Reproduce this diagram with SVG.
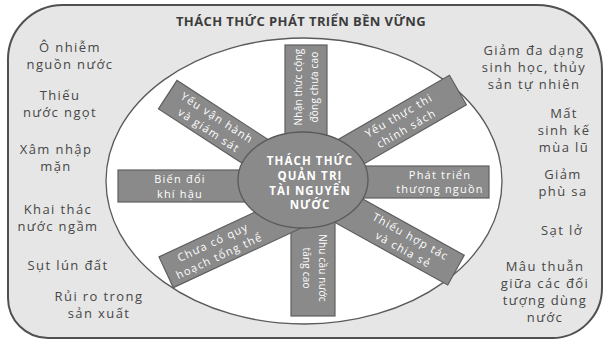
<svg xmlns="http://www.w3.org/2000/svg" width="608" height="343" viewBox="0 0 608 343">
  <style>
    .frame { fill: #e6e6e6; stroke: #505050; stroke-width: 2; }
    .ring { fill: #ffffff; stroke: #5a5a5a; stroke-width: 1.3; }
    .hub { fill: #8a8a8a; stroke: #5a5a5a; stroke-width: 1.3; }
    .box { fill: #8a8a8a; stroke: #5f5f5f; stroke-width: 1.2; }
    .title { font-family: "Open Sans", "Noto Sans", sans-serif; font-weight: bold; font-size: 13px; letter-spacing: 0.4px; fill: #3c3c3c; text-anchor: middle; }
    .issue { font-family: "Open Sans", "Noto Sans", sans-serif; font-size: 13px; letter-spacing: 1.4px; fill: #474747; text-anchor: middle; }
    .hub-text { font-family: "Open Sans", "Noto Sans", sans-serif; font-weight: bold; font-size: 11.5px; letter-spacing: 1.1px; fill: #ffffff; text-anchor: middle; }
    .box-text { font-family: "Open Sans", "Noto Sans", sans-serif; font-size: 11px; letter-spacing: 1.2px; fill: #ffffff; text-anchor: middle; }
    .box-text-v { font-family: "Open Sans", "Noto Sans", sans-serif; font-size: 10px; letter-spacing: 0.2px; fill: #ffffff; text-anchor: middle; }
  </style>

  <!-- outer frame: sustainable development challenges -->
  <g id="frame">
    <path class="frame" d="M8,62 A55,55 0 0 1 63,5 L537,5 A65,65 0 0 1 602,70 L602,288 A50,50 0 0 1 552,338 L48,338 A40,40 0 0 1 8,298 Z"/>
    <text class="title" x="301" y="26">THÁCH THỨC PHÁT TRIỂN BỀN VỮNG</text>
  </g>

  <!-- challenges listed on the left -->
  <g id="left-issues" class="issue">
    <g id="i-pollution"><text x="70" y="52">Ô nhiễm</text><text x="70" y="69">nguồn nước</text></g>
    <g id="i-freshwater"><text x="60" y="100">Thiếu</text><text x="60" y="117">nước ngọt</text></g>
    <g id="i-salinity"><text x="56" y="154">Xâm nhập</text><text x="56" y="171">mặn</text></g>
    <g id="i-groundwater"><text x="58" y="214">Khai thác</text><text x="58" y="231">nước ngầm</text></g>
    <g id="i-subsidence"><text x="68" y="270">Sụt lún đất</text></g>
    <g id="i-production"><text x="99" y="301">Rủi ro trong</text><text x="99" y="318">sản xuất</text></g>
  </g>

  <!-- challenges listed on the right -->
  <g id="right-issues" class="issue">
    <g id="i-biodiversity"><text x="534" y="55">Giảm đa dạng</text><text x="534" y="72">sinh học, thủy</text><text x="534" y="89">sản tự nhiên</text></g>
    <g id="i-livelihood"><text x="564" y="118">Mất</text><text x="564" y="135">sinh kế</text><text x="564" y="152">mùa lũ</text></g>
    <g id="i-sediment"><text x="563" y="179">Giảm</text><text x="563" y="196">phù sa</text></g>
    <g id="i-erosion"><text x="562" y="235">Sạt lở</text></g>
    <g id="i-conflict"><text x="545" y="271">Mâu thuẫn</text><text x="545" y="288">giữa các đối</text><text x="545" y="305">tượng dùng</text><text x="545" y="322">nước</text></g>
  </g>

  <!-- inner ring: water governance challenges -->
  <ellipse id="ring" class="ring" cx="304" cy="181" rx="198" ry="143"/>

  <!-- spokes around the hub -->
  <g id="connectors">
    <g id="n-awareness">
      <rect class="box" x="285" y="45" width="42" height="100"/>
      <g transform="translate(306,87) rotate(-90)" class="box-text-v">
        <text x="0" y="-4">Nhận thức cộng</text>
        <text x="0" y="12">đồng chưa cao</text>
      </g>
    </g>
    <g id="n-demand">
      <rect class="box" x="291" y="210" width="44" height="106"/>
      <g transform="translate(314.5,268) rotate(90)" class="box-text-v">
        <text x="0" y="-4">Nhu cầu nước</text>
        <text x="0" y="12">tăng cao</text>
      </g>
    </g>
    <g id="n-upstream">
      <rect class="box" x="355" y="166" width="134" height="32"/>
      <text class="box-text" x="440" y="178.5">Phát triển</text>
      <text class="box-text" x="440" y="193">thượng nguồn</text>
    </g>
    <g id="n-climate">
      <rect class="box" x="118" y="170" width="140" height="32"/>
      <text class="box-text" x="180" y="183">Biến đổi</text>
      <text class="box-text" x="180" y="197.5">khí hậu</text>
    </g>
    <g id="n-operation" transform="translate(213,124) rotate(33)">
      <rect class="box" x="-54" y="-17" width="124" height="34"/>
      <text class="box-text" x="0" y="-3.5">Yếu vận hành</text>
      <text class="box-text" x="0" y="11.5">và giám sát</text>
    </g>
    <g id="n-enforcement" transform="translate(402.5,122) rotate(-30)">
      <rect class="box" x="-70" y="-17" width="134" height="34"/>
      <text class="box-text" x="0" y="-3.5">Yếu thực thi</text>
      <text class="box-text" x="0" y="11.5">chính sách</text>
    </g>
    <g id="n-planning" transform="translate(216,249) rotate(-25)">
      <rect class="box" x="-55" y="-17" width="150" height="34"/>
      <text class="box-text" x="0" y="-3.5">Chưa có quy</text>
      <text class="box-text" x="0" y="11.5">hoạch tổng thể</text>
    </g>
    <g id="n-cooperation" transform="translate(407,243) rotate(29)">
      <rect class="box" x="-100" y="-17" width="156" height="34"/>
      <text class="box-text" x="0" y="-3.5">Thiếu hợp tác</text>
      <text class="box-text" x="0" y="11.5">và chia sẻ</text>
    </g>
  </g>

  <!-- central hub -->
  <g id="hub">
    <ellipse class="hub" cx="303" cy="180" rx="65" ry="48"/>
    <text class="hub-text" x="310" y="164.5">THÁCH THỨC</text>
    <text class="hub-text" x="310" y="179.5">QUẢN TRỊ</text>
    <text class="hub-text" x="310" y="194.5">TÀI NGUYÊN</text>
    <text class="hub-text" x="310" y="209">NƯỚC</text>
  </g>
</svg>
